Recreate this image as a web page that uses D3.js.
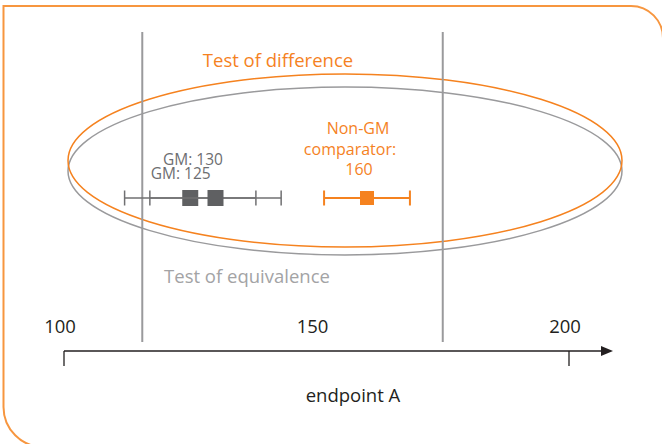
<!DOCTYPE html>
<html>
<head>
<meta charset="utf-8">
<script src="https://cdn.jsdelivr.net/npm/d3@7"></script>
<style>
  html, body { margin: 0; padding: 0; background: #fff; }
  svg { display: block; font-family: 'Open Sans', sans-serif; }
</style>
</head>
<body>
<svg id="chart" width="662" height="444"></svg>
<script>
// values
const tickValues = [100, 150, 200]
const tickMarks = [100, 200]
const eqLimits = [115.5, 175]
const gmLabels = ['GM: 125', 'GM: 130']
const gmMeans = [125, 130]
const gmHalfCI = [13, 13]
const refLabel = ['Non-GM', 'comparator:', '160']
const refMean = 160
const refHalfCI = 8.5

const orange = '#f5821f'
const grey = '#9a9a9c'
const dark = '#5f6062'

function drawChart() {
  const svg = d3.select('#chart')

  const x = d3.scaleLinear()
    .domain([100, 200])
    .range([64, 569])

  const axisY = 351
  const barY = 198

  // outer frame, only two corners rounded
  svg.append('path')
    .attr('d', 'M43.5,447 A40,40 0 0 1 3.5,407 V6 H631 A32,32 0 0 1 663,38 V460')
    .attr('fill', 'none')
    .attr('stroke', '#f7963f')
    .attr('stroke-width', 2)

  // test ellipses
  svg.append('ellipse')
    .attr('cx', 345).attr('cy', 171)
    .attr('rx', 277).attr('ry', 84)
    .attr('fill', 'none')
    .attr('stroke', grey)
    .attr('stroke-width', 1.5)

  svg.append('ellipse')
    .attr('cx', 345).attr('cy', 160.5)
    .attr('rx', 277).attr('ry', 86.5)
    .attr('fill', 'none')
    .attr('stroke', orange)
    .attr('stroke-width', 1.5)

  // equivalence limits
  svg.selectAll('line.limit')
    .data(eqLimits)
    .join('line')
    .attr('class', 'limit')
    .attr('x1', d => x(d)).attr('x2', d => x(d))
    .attr('y1', 32).attr('y2', 342)
    .attr('stroke', grey)
    .attr('stroke-width', 2)

  svg.append('text')
    .attr('x', 278).attr('y', 67)
    .attr('text-anchor', 'middle')
    .attr('fill', orange)
    .style('font-size', '18.5px')
    .text('Test of difference')

  svg.append('text')
    .attr('x', 247).attr('y', 283)
    .attr('text-anchor', 'middle')
    .attr('fill', '#a3a3a5')
    .style('font-size', '18.5px')
    .text('Test of equivalence')

  // GM error bars
  const gm = svg.selectAll('g.gm')
    .data(gmMeans.map((m, i) => ({ mean: m, half: gmHalfCI[i], label: gmLabels[i] })))
    .join('g')
    .attr('class', 'gm')

  gm.append('line')
    .attr('x1', d => x(d.mean - d.half))
    .attr('x2', d => x(d.mean + d.half))
    .attr('y1', barY).attr('y2', barY)
    .attr('stroke', '#707072')
    .attr('stroke-width', 1.5)

  gm.selectAll('line.cap')
    .data(d => [d.mean - d.half, d.mean + d.half])
    .join('line')
    .attr('class', 'cap')
    .attr('x1', d => x(d)).attr('x2', d => x(d))
    .attr('y1', barY - 7.5).attr('y2', barY + 7.5)
    .attr('stroke', '#707072')
    .attr('stroke-width', 1.5)

  gm.append('rect')
    .attr('x', d => x(d.mean) - 8)
    .attr('y', barY - 8)
    .attr('width', 16).attr('height', 16)
    .attr('fill', dark)

  const labelDx = [-39.5, -52.5]
  const labelY = [179, 164.5]
  gm.append('text')
    .attr('x', (d, i) => x(d.mean) + labelDx[i])
    .attr('y', (d, i) => labelY[i])
    .attr('fill', '#6d6e71')
    .style('font-size', '15.5px')
    .text(d => d.label)

  // comparator
  const ref = svg.append('g')
  ref.append('line')
    .attr('x1', x(refMean - refHalfCI))
    .attr('x2', x(refMean + refHalfCI))
    .attr('y1', barY).attr('y2', barY)
    .attr('stroke', orange)
    .attr('stroke-width', 2)
  ref.selectAll('line.cap')
    .data([refMean - refHalfCI, refMean + refHalfCI])
    .join('line')
    .attr('class', 'cap')
    .attr('x1', d => x(d)).attr('x2', d => x(d))
    .attr('y1', barY - 7.5).attr('y2', barY + 7.5)
    .attr('stroke', orange)
    .attr('stroke-width', 2)
  ref.append('rect')
    .attr('x', x(refMean) - 7)
    .attr('y', barY - 7)
    .attr('width', 14).attr('height', 14)
    .attr('fill', orange)
  const refDx = [-9, -17, -8]
  ref.selectAll('text')
    .data(refLabel)
    .join('text')
    .attr('x', (d, i) => x(refMean) + refDx[i])
    .attr('y', (d, i) => 134 + i * 20.5)
    .attr('text-anchor', 'middle')
    .attr('fill', orange)
    .style('font-size', '16px')
    .text(d => d)

  // axis
  const axisEnd = x.range()[1] + 44
  svg.append('line')
    .attr('x1', x(100)).attr('x2', axisEnd - 10)
    .attr('y1', axisY).attr('y2', axisY)
    .attr('stroke', '#231f20')
    .attr('stroke-width', 1.3)
  svg.append('path')
    .attr('d', `M${axisEnd},${axisY} L${axisEnd - 12},${axisY - 5} L${axisEnd - 12},${axisY + 5} Z`)
    .attr('fill', '#231f20')

  svg.selectAll('line.tick')
    .data(tickMarks)
    .join('line')
    .attr('class', 'tick')
    .attr('x1', d => x(d)).attr('x2', d => x(d))
    .attr('y1', axisY).attr('y2', axisY + 15)
    .attr('stroke', '#231f20')
    .attr('stroke-width', 1.3)

  svg.selectAll('text.ticklabel')
    .data(tickValues)
    .join('text')
    .attr('class', 'ticklabel')
    .attr('x', d => x(d) - 4)
    .attr('y', 333)
    .attr('text-anchor', 'middle')
    .attr('fill', '#231f20')
    .style('font-size', '18.5px')
    .text(d => d)

  svg.append('text')
    .attr('x', 353).attr('y', 402)
    .attr('text-anchor', 'middle')
    .attr('fill', '#231f20')
    .style('font-size', '18.5px')
    .text('endpoint A')
}

document.addEventListener('DOMContentLoaded', drawChart, false)
</script>
</body>
</html>
